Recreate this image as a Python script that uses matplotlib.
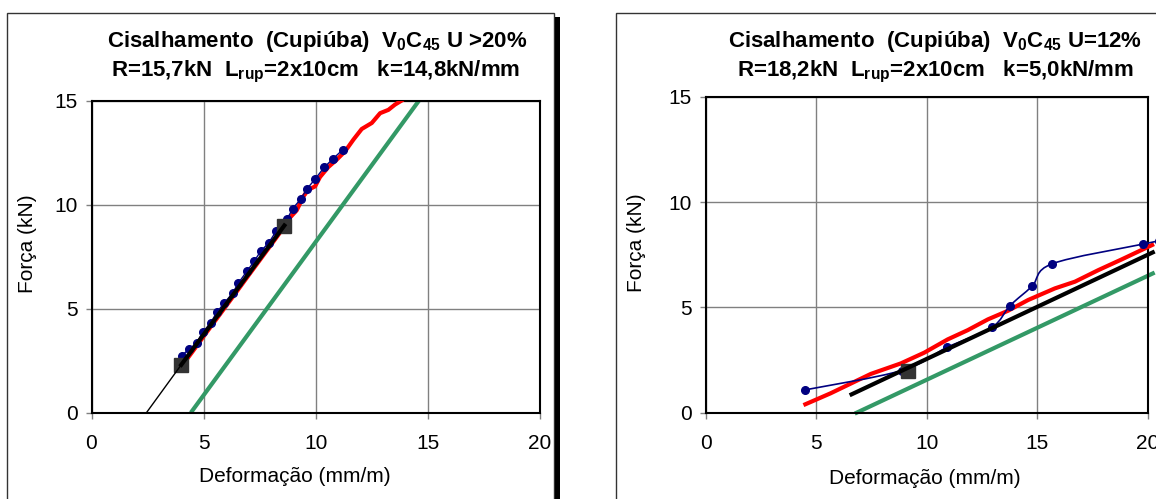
import numpy as np
import matplotlib
matplotlib.use("Agg")
import matplotlib.pyplot as plt
from matplotlib.patches import Rectangle
from matplotlib.path import Path
from matplotlib.patches import PathPatch

plt.rcParams['font.family'] = ['Liberation Sans', 'DejaVu Sans']
plt.rcParams['mathtext.fontset'] = 'custom'
plt.rcParams['mathtext.rm'] = 'Liberation Sans'
plt.rcParams['mathtext.bf'] = 'Liberation Sans:bold'
plt.rcParams['mathtext.default'] = 'bf'

# ---------------- data: left chart (U > 20%) ----------------
left_pts_x = [4.02, 4.36, 4.69, 4.95, 5.31, 5.58, 5.92, 6.29, 6.55, 6.92, 7.25, 7.54,
              7.90, 8.23, 8.72, 8.97, 9.33, 9.60, 9.97, 10.38, 10.76, 11.20]
left_pts_y = [2.75, 3.06, 3.35, 3.86, 4.31, 4.82, 5.27, 5.75, 6.23, 6.79, 7.27, 7.76,
              8.16, 8.72, 9.30, 9.81, 10.27, 10.75, 11.23, 11.80, 12.20, 12.64]
left_red_x = [4.10, 4.50, 5.00, 5.50, 6.00, 6.50, 7.00, 7.50, 8.00, 8.50, 8.70, 9.15,
              9.45, 9.67, 9.97, 10.19, 10.56, 10.93, 11.31, 11.68, 12.05, 12.50,
              12.87, 13.24, 13.53, 13.82]
left_red_y = [2.35, 2.93, 3.67, 4.40, 5.13, 5.86, 6.60, 7.33, 8.06, 8.80, 9.20, 9.73,
              10.40, 10.72, 10.88, 11.33, 11.81, 12.16, 12.57, 13.13, 13.64, 13.93,
              14.40, 14.56, 14.81, 15.00]
left_sq_x = [4.00, 8.60]
left_sq_y = [2.30, 9.00]
left_fit_thin_x = [2.45, 4.00]
left_fit_thin_y = [0.00, 2.30]
left_fit_x = [4.00, 8.60]
left_fit_y = [2.30, 9.00]
left_green_x = [4.43, 14.60]
left_green_y = [0.00, 15.00]

# ---------------- data: right chart (U = 12%) ----------------
right_pts_x = [4.48, 8.86, 10.92, 12.95, 13.77, 14.77, 15.68, 19.77, 20.50]
right_pts_y = [1.08, 2.00, 3.10, 4.05, 5.08, 6.01, 7.07, 8.00, 8.15]
right_red_x = [4.51, 5.65, 7.47, 8.83, 9.89, 10.95, 11.86, 12.77, 13.68, 14.59,
               15.80, 16.71, 17.77, 18.83, 20.20]
right_red_y = [0.40, 0.92, 1.84, 2.34, 2.85, 3.48, 3.92, 4.43, 4.84, 5.35,
               5.90, 6.22, 6.77, 7.28, 7.96]
right_sq_x = [9.14]
right_sq_y = [2.00]
right_fit_x = [6.60, 20.23]
right_fit_y = [0.87, 7.61]
right_green_x = [6.83, 20.23]
right_green_y = [0.00, 6.61]

x_ticks = [0, 5, 10, 15, 20]
y_ticks = [0, 5, 10, 15]

title_left_1 = r'Cisalhamento  (Cupiúba)  V$_0$C$_{45}$ U >20%'
title_left_2 = r'R=15,7kN  L$_{rup}$=2x10cm   k=14,8kN/mm'
title_right_1 = r'Cisalhamento  (Cupiúba)  V$_0$C$_{45}$ U=12%'
title_right_2 = r'R=18,2kN  L$_{rup}$=2x10cm   k=5,0kN/mm'
xlabel = 'Deformação (mm/m)'
ylabel = 'Força (kN)'

W, H = 1156, 499
fig = plt.figure(figsize=(W / 100, H / 100), dpi=100)


def fx(p):
    return p / W


def fy(p):
    return 1 - p / H


NAVY = '#000080'
RED = '#FF0000'
GREEN = '#339966'
SQ = '#333333'


def smooth_path(xs, ys):
    pts = np.column_stack([xs, ys])
    verts = [pts[0]]
    codes = [Path.MOVETO]
    n = len(pts)
    for i in range(n - 1):
        p0 = pts[i - 1] if i > 0 else pts[i]
        p1 = pts[i]
        p2 = pts[i + 1]
        p3 = pts[i + 2] if i + 2 < n else pts[i + 1]
        c1 = p1 + (p2 - p0) / 6.0
        c2 = p2 - (p3 - p1) / 6.0
        verts += [c1, c2, p2]
        codes += [Path.CURVE4] * 3
    return Path(verts, codes)


# frames around each chart
fig.patches.append(Rectangle((fx(7.3), fy(560)), fx(554) - fx(7.3), fy(13.3) - fy(560),
                             transform=fig.transFigure, fill=False, ec='#333333', lw=1.0))
fig.patches.append(Rectangle((fx(555), fy(560)), fx(560) - fx(555), fy(17) - fy(560),
                             transform=fig.transFigure, fc='black', ec='none'))
fig.patches.append(Rectangle((fx(616), fy(560)), fx(1200) - fx(616), fy(13.3) - fy(560),
                             transform=fig.transFigure, fill=False, ec='#333333', lw=1.0))

axL = fig.add_axes([fx(91.5), fy(412.7), fx(540) - fx(91.5), fy(100.7) - fy(412.7)])
axR = fig.add_axes([fx(705.7), fy(412.7), fx(1147.7) - fx(705.7), fy(96.7) - fy(412.7)])

for ax in (axL, axR):
    ax.set_xlim(0, 20)
    ax.set_ylim(0, 15)
    ax.set_xticks(x_ticks)
    ax.set_yticks(y_ticks)
    ax.grid(True, color='#808080', lw=1.0)
    ax.set_axisbelow(True)
    for s in ax.spines.values():
        s.set_color('black')
        s.set_linewidth(1.5)
    ax.tick_params(axis='both', direction='out', length=4, width=1, color='#808080',
                   labelsize=15)
    ax.tick_params(axis='x', pad=11)
    ax.tick_params(axis='y', pad=6)
    ax.set_xlabel(xlabel, fontsize=15)
    ax.set_ylabel(ylabel, fontsize=15)

# left chart
axL.plot(left_green_x, left_green_y, color=GREEN, lw=3, zorder=2, solid_capstyle='butt')
axL.plot(left_red_x, left_red_y, color=RED, lw=3, zorder=3)
axL.plot(left_pts_x, left_pts_y, color=NAVY, lw=1, marker='o', ms=5.5, zorder=4)
axL.plot(left_sq_x, left_sq_y, ls='none', marker='s', ms=10.5, color=SQ, zorder=5)
axL.plot(left_fit_thin_x, left_fit_thin_y, color='black', lw=1, zorder=6)
axL.plot(left_fit_x, left_fit_y, color='black', lw=3, zorder=6)

# right chart
axR.plot(right_green_x, right_green_y, color=GREEN, lw=3, zorder=2, clip_on=False)
axR.plot(right_red_x, right_red_y, color=RED, lw=3, zorder=3, clip_on=False)
axR.add_patch(PathPatch(smooth_path(right_pts_x, right_pts_y), fill=False, ec=NAVY,
                        lw=1.2, zorder=4, clip_on=False))
axR.plot(right_pts_x, right_pts_y, ls='none', marker='o', ms=5.5, color=NAVY, zorder=4,
         clip_on=False)
axR.plot(right_sq_x, right_sq_y, ls='none', marker='s', ms=10.5, color=SQ, zorder=5)
axR.plot(right_fit_x, right_fit_y, color='black', lw=3, zorder=6, clip_on=False)

# label positions
axL.xaxis.set_label_coords((295 - 91.5) / (540 - 91.5), -(477 - 412.7) / (412.7 - 100.7),
                           transform=axL.transAxes)
axL.xaxis.label.set_va('center')
axR.xaxis.set_label_coords((925 - 705.7) / (1147.7 - 705.7), -(478 - 412.7) / (412.7 - 96.7),
                           transform=axR.transAxes)
axR.xaxis.label.set_va('center')
axL.yaxis.set_label_coords(-(91.5 - 27.5) / (540 - 91.5), (412.7 - 243.5) / (412.7 - 100.7),
                           transform=axL.transAxes)
axL.yaxis.label.set_va('center')
axR.yaxis.set_label_coords(-(705.7 - 636) / (1147.7 - 705.7), (412.7 - 243) / (412.7 - 96.7),
                           transform=axR.transAxes)
axR.yaxis.label.set_va('center')

# titles
fig.text(fx(317), fy(46.7), title_left_1, ha='center', va='baseline', fontsize=16,
         fontweight='bold')
fig.text(fx(316), fy(76), title_left_2, ha='center', va='baseline', fontsize=16,
         fontweight='bold')
fig.text(fx(935), fy(46.7), title_right_1, ha='center', va='baseline', fontsize=16,
         fontweight='bold')
fig.text(fx(935), fy(76), title_right_2, ha='center', va='baseline', fontsize=16,
         fontweight='bold')

fig.savefig('out.png', dpi=100)
